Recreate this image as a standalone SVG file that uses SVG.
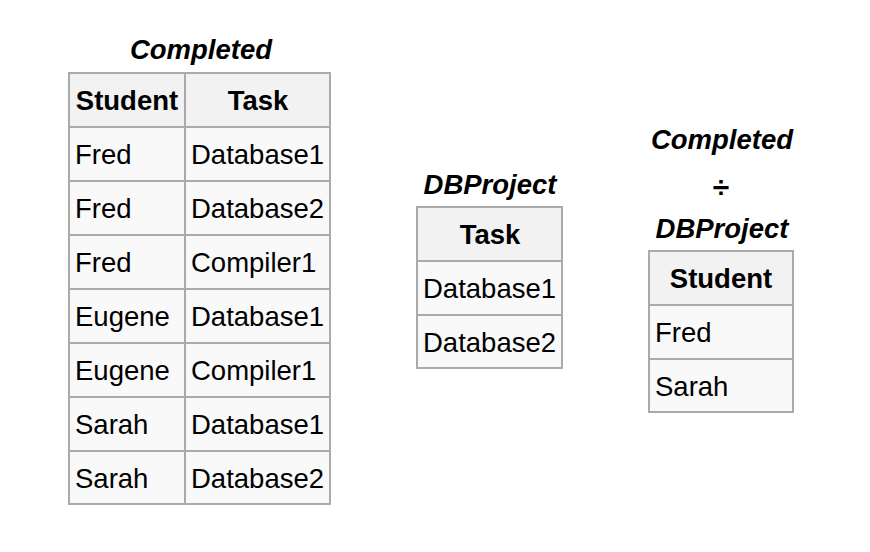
<svg xmlns="http://www.w3.org/2000/svg" width="870" height="552" viewBox="0 0 870 552">
<style>
.t{font-family:"Liberation Sans",Arial,sans-serif;font-size:27.5px;fill:#000}
.h{font-weight:bold;text-anchor:middle}
.cap{font-weight:bold;font-style:italic;text-anchor:middle}
.dv{font-size:30px}
.hd{fill:#f2f2f2}
.bd{fill:#f9f9f9}
.ln{stroke:#aaaaaa;stroke-width:2;fill:none}
</style>
<rect width="870" height="552" fill="#ffffff"/>
<g id="completed">
<text class="t cap" x="201" y="59">Completed</text>
<rect class="hd" x="69" y="73" width="261" height="54"/>
<rect class="bd" x="69" y="127" width="261" height="377"/>
<g class="ln">
<rect x="69" y="73" width="261" height="431"/>
<line x1="185" y1="73" x2="185" y2="504"/>
<line x1="69" y1="127" x2="330" y2="127"/>
<line x1="69" y1="181" x2="330" y2="181"/>
<line x1="69" y1="235" x2="330" y2="235"/>
<line x1="69" y1="289" x2="330" y2="289"/>
<line x1="69" y1="343" x2="330" y2="343"/>
<line x1="69" y1="397" x2="330" y2="397"/>
<line x1="69" y1="451" x2="330" y2="451"/>
</g>
<text class="t h" x="127" y="110">Student</text>
<text class="t h" x="258" y="110">Task</text>
<text class="t" x="75" y="164">Fred</text><text class="t" x="191" y="164">Database1</text>
<text class="t" x="75" y="218">Fred</text><text class="t" x="191" y="218">Database2</text>
<text class="t" x="75" y="272">Fred</text><text class="t" x="191" y="272">Compiler1</text>
<text class="t" x="75" y="326">Eugene</text><text class="t" x="191" y="326">Database1</text>
<text class="t" x="75" y="380">Eugene</text><text class="t" x="191" y="380">Compiler1</text>
<text class="t" x="75" y="434">Sarah</text><text class="t" x="191" y="434">Database1</text>
<text class="t" x="75" y="488">Sarah</text><text class="t" x="191" y="488">Database2</text>
</g>
<g id="dbproject">
<text class="t cap" x="490" y="194">DBProject</text>
<rect class="hd" x="417" y="207" width="145" height="54"/>
<rect class="bd" x="417" y="261" width="145" height="107"/>
<g class="ln">
<rect x="417" y="207" width="145" height="161"/>
<line x1="417" y1="261" x2="562" y2="261"/>
<line x1="417" y1="315" x2="562" y2="315"/>
</g>
<text class="t h" x="490" y="244">Task</text>
<text class="t" x="423" y="298">Database1</text>
<text class="t" x="423" y="352">Database2</text>
</g>
<g id="result">
<text class="t cap" x="722" y="149">Completed</text>
<text class="t h dv" x="721" y="197">÷</text>
<text class="t cap" x="722" y="238">DBProject</text>
<rect class="hd" x="649" y="251" width="144" height="54"/>
<rect class="bd" x="649" y="305" width="144" height="107"/>
<g class="ln">
<rect x="649" y="251" width="144" height="161"/>
<line x1="649" y1="305" x2="793" y2="305"/>
<line x1="649" y1="359" x2="793" y2="359"/>
</g>
<text class="t h" x="721" y="288">Student</text>
<text class="t" x="655" y="342">Fred</text>
<text class="t" x="655" y="396">Sarah</text>
</g>
<g id="connectors"/>
</svg>
